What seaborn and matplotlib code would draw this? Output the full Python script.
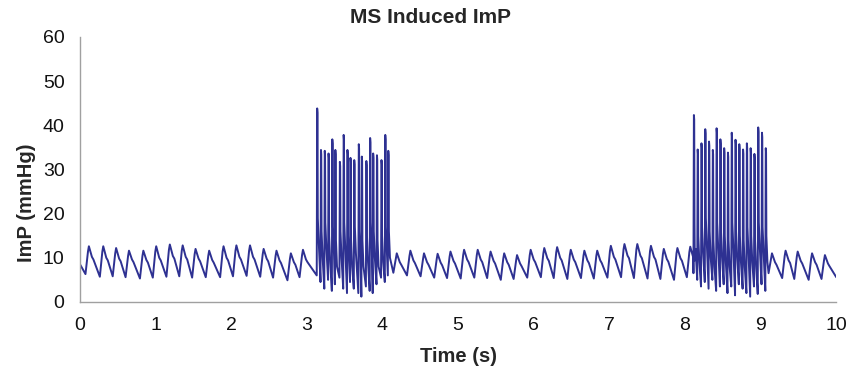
import numpy as np
import pandas as pd
import seaborn as sns
import matplotlib
matplotlib.use("Agg")
import matplotlib.pyplot as plt

# baseline pulses (peak time, peak, notch after peak, trough before peak)
base_t = [0.12, 0.31, 0.48, 0.65, 0.84, 1.01, 1.19, 1.36, 1.53, 1.71, 1.90, 2.07, 2.25, 2.43, 2.60, 2.79, 2.95,
          4.19, 4.37, 4.55, 4.73, 4.90, 5.08, 5.26, 5.43, 5.61, 5.78, 5.96, 6.14, 6.31, 6.49, 6.67, 6.84,
          7.02, 7.20, 7.37, 7.55, 7.72, 7.90, 8.07,
          9.15, 9.33, 9.49, 9.68, 9.85]
base_peak = [12.6, 12.6, 12.2, 11.6, 11.6, 12.6, 13.0, 12.8, 12.0, 11.6, 12.6, 12.8, 12.8, 12.0, 11.6, 11.0, 11.8,
             11.0, 11.6, 11.0, 10.9, 11.4, 11.8, 11.8, 11.4, 11.0, 10.6, 11.8, 12.2, 12.4, 11.8, 11.6, 11.6,
             12.7, 13.1, 13.1, 12.7, 12.0, 12.2, 12.5,
             11.0, 11.6, 11.4, 11.0, 10.6]
base_notch = [10.2, 10.0, 9.8, 9.6, 9.5, 10.0, 10.4, 10.2, 9.8, 9.5, 10.0, 10.2, 10.2, 9.8, 9.4, 9.0, 9.6,
              9.0, 9.4, 9.0, 8.9, 9.3, 9.6, 9.6, 9.3, 9.0, 8.7, 9.6, 9.9, 10.0, 9.6, 9.4, 9.4,
              10.2, 10.5, 10.5, 10.2, 9.7, 9.9, 10.0,
              9.0, 9.4, 9.3, 9.0, 8.7]
base_trough = [6.3, 5.7, 5.8, 5.6, 5.3, 5.5, 5.7, 5.8, 5.5, 5.6, 5.6, 5.8, 5.9, 5.7, 5.5, 4.9, 5.6,
               6.6, 6.0, 5.8, 5.5, 5.4, 5.3, 5.5, 5.4, 5.0, 5.2, 5.5, 5.6, 5.4, 5.2, 5.4, 5.3,
               5.5, 5.6, 5.4, 5.3, 5.2, 5.0, 5.6,
               6.5, 5.4, 5.2, 5.0, 5.2]

# stimulated spikes (time, top, value right after the drop, low before the spike)
spike_t = [3.14, 3.19, 3.24, 3.29, 3.34, 3.38, 3.44, 3.49, 3.54, 3.58, 3.63, 3.69, 3.73, 3.79, 3.84, 3.88, 3.93, 3.99, 4.04, 4.08,
           8.12, 8.17, 8.22, 8.27, 8.32, 8.37, 8.42, 8.47, 8.52, 8.57, 8.62, 8.67, 8.72, 8.77, 8.82, 8.87, 8.92, 8.97, 9.02, 9.07]
spike_top = [43.8, 34.4, 34.2, 33.6, 36.8, 34.4, 31.7, 37.8, 34.4, 32.6, 32.1, 35.7, 32.9, 31.9, 37.1, 33.6, 33.2, 32.1, 37.8, 34.2,
             42.3, 34.5, 35.9, 39.1, 36.3, 34.4, 39.3, 36.8, 34.8, 33.8, 38.3, 36.7, 35.7, 34.5, 35.9, 34.8, 33.5, 39.5, 38.3, 34.8]
spike_mid = [19, 16, 18, 15, 17, 14, 16, 18, 15, 14, 17, 16, 14, 15, 18, 16, 14, 15, 17, 16,
             18, 15, 17, 19, 16, 14, 18, 16, 15, 14, 18, 16, 15, 14, 17, 15, 14, 18, 17, 15]
spike_low = [6.0, 4.5, 3.0, 5.0, 2.5, 4.0, 5.5, 3.0, 2.0, 4.5, 3.0, 2.0, 1.2, 3.5, 2.5, 2.0, 4.0, 5.5, 4.5, 6.0,
             6.5, 5.0, 3.5, 4.5, 3.0, 5.0, 2.5, 3.5, 4.0, 2.0, 3.5, 1.5, 4.0, 3.0, 2.0, 1.2, 3.5, 1.8, 4.0, 2.5]

start_val = 8.6
end_val = 5.6

# build the trace
tt = [0.0]
vv = [start_val]
for t, p, n, lo in zip(base_t, base_peak, base_notch, base_trough):
    tt += [t - 0.045, t - 0.012, t, t + 0.04, t + 0.06]
    vv += [lo, p - 1.2, p, n, n - 0.6]
for t, p, m, lo in zip(spike_t, spike_top, spike_mid, spike_low):
    tt += [t - 0.008, t - 0.002, t + 0.002, t + 0.006, t + 0.02]
    vv += [lo, p, p - 1, m, m - 6]
tt.append(10.0)
vv.append(end_val)

df = pd.DataFrame({"time": tt, "imp": vv}).sort_values("time")

sns.set_style("white")
plt.rcParams["font.family"] = ["Liberation Sans", "DejaVu Sans"]

fig = plt.figure(figsize=(8.49, 3.76), dpi=100)
ax = fig.add_axes([0.094, 0.197, 0.891, 0.705])
sns.lineplot(data=df, x="time", y="imp", ax=ax, color="#2e3192", linewidth=1.4, estimator=None)

ax.set_xlim(0, 10)
ax.set_ylim(0, 60)
ax.set_xticks(range(0, 11))
ax.set_yticks(range(0, 61, 10))
for s in ["top", "right"]:
    ax.spines[s].set_visible(False)
for s in ["left", "bottom"]:
    ax.spines[s].set_color("#a0a0a0")
    ax.spines[s].set_linewidth(1.0)
ax.tick_params(axis="both", direction="out", length=5, width=1, color="#a0a0a0",
               labelsize=14, labelcolor="#111111", pad=6)
ax.set_xlabel("Time (s)", fontsize=14.5, fontweight="bold")
ax.set_ylabel("ImP (mmHg)", fontsize=14.5, fontweight="bold")
ax.xaxis.set_label_coords(0.501, -0.17)
ax.yaxis.set_label_coords(-0.058, 0.374)
fig.suptitle("MS Induced ImP", x=430 / 849, y=0.978, fontsize=15, fontweight="bold")

fig.savefig("out.png", dpi=100)
